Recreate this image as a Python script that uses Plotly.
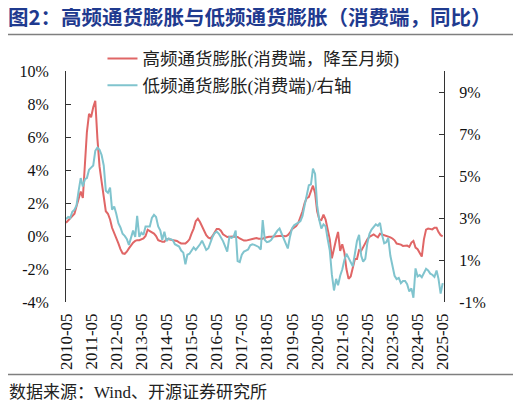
import pandas as pd
import plotly.graph_objects as go

# 月度数据 2010-05 ~ 2025-05
months = pd.date_range("2010-05-01", "2025-05-01", freq="MS")

# 高频通货膨胀(消费端，降至月频)，左轴，%
high_freq = [
    0.8, 0.95, 1.05, 1.2, 1.35, 1.8, 2.2, 2.7, 2.3, 4.5,
    6.3, 7.4, 7.2, 7.8, 8.2, 5.9, 4.2, 3.3, 2.4, 1.5,
    1.35, 1.0, 0.5, 0.2, -0.15, -0.45, -0.8, -1.05, -1.08, -0.95,
    -0.75, -0.55, -0.4, -0.3, -0.25, -0.25, -0.2, -0.15, 0.0, 0.38,
    0.3, 0.25, 0.15, 0.0, -0.25, -0.3, -0.35, -0.35, -0.18, -0.2,
    -0.22, -0.22, -0.27, -0.3, -0.38, -0.45, -0.46, -0.46, -0.35, -0.2,
    0.14, 0.45, 0.9, 1.05, 0.85, 0.55, 0.32, 0.05, -0.1, -0.15,
    0.0, 0.2, 0.42, 0.42, 0.32, 0.1, 0.0, -0.06, -0.04, -0.02,
    -0.03, -0.05, -0.06, -0.15, -0.22, -0.28, -0.28, -0.23, -0.2, -0.18,
    -0.15, -0.12, -0.16, -0.16, -0.16, -0.1, -0.06, -0.05, -0.04, -0.02,
    -0.02, 0.0, 0.02, 0.02, 0.0, -0.02, 0.05, 0.2, 0.42, 0.5,
    0.6, 0.8, 1.1, 1.5, 2.0, 2.3, 2.36, 2.7, 3.05, 2.6,
    1.5, 1.0, 0.97, 1.3, 1.0, 0.4, -0.2, -1.35, -0.66, -0.2,
    0.25, -0.9, -0.5, -1.0, -2.0, -2.6, -2.45, -1.9, -1.4, -1.4,
    -0.85, -0.9, -0.65, -0.4, -0.2, -0.05, 0.04, 0.1, 0.0, -0.08,
    0.14, 0.1, 0.04, 0.0, -0.02, -0.08, -0.15, -0.26, -0.46, -0.48,
    -0.52, -0.6, -0.58, -0.58, -0.66, -0.4, -0.3, -0.7, -0.8, -1.0,
    -1.25, -0.2, 0.39, 0.45, 0.43, 0.4, 0.5, 0.5, 0.24, 0.05,
    -0.02,
]

# 低频通货膨胀(消费端)，右轴，%
low_freq = [
    2.95, 3.05, 3.0, 3.3, 3.4, 3.6, 4.3, 4.9, 4.5, 4.85,
    4.9, 5.3, 5.4, 5.5, 6.2, 6.35, 6.25, 6.0, 5.5, 4.3,
    4.2, 4.45, 3.4, 3.55, 3.2, 2.75, 2.55, 2.25, 2.15, 2.0,
    1.72, 2.1, 2.4, 2.1, 3.1, 2.1, 2.3, 2.2, 2.6, 2.6,
    2.6, 3.0, 3.15, 3.05, 2.6, 2.4, 1.95, 2.35, 1.9, 2.03,
    2.0, 1.95, 1.75, 1.7, 1.64, 1.45, 1.35, 0.8, 1.25, 1.3,
    1.45, 1.6, 1.48, 1.6, 1.75, 1.92, 1.7, 1.48, 1.56, 1.9,
    2.1, 2.28, 2.35, 2.25, 2.1, 1.9, 1.65, 1.4, 2.1, 2.05,
    2.1, 2.4, 0.95, 0.9, 1.25, 1.4, 1.45, 1.5, 1.7, 1.75,
    1.72, 1.65, 1.62, 1.5, 2.9, 1.95, 1.85, 1.88, 1.95, 2.1,
    2.27, 2.4, 2.5, 2.25, 2.0, 1.75, 1.55, 2.1, 2.5, 2.65,
    2.7, 2.78, 2.85, 3.1, 3.6, 4.1, 4.56, 4.6, 5.35, 5.1,
    3.6, 2.9, 2.5, 2.7, 2.6, 2.0, 1.45, 0.3, -0.45, 0.1,
    -0.2, 0.25, 0.55, 1.0, 1.3, 1.1, 0.9, 0.7, 1.3, 1.9,
    2.2, 1.2, 0.92, 1.05, 1.8, 2.25, 2.45, 2.6, 2.7, 2.63,
    2.77, 2.2, 1.8, 1.85, 2.05, 1.2, 0.75, 0.25, 0.09, 0.15,
    -0.1, 0.0, 0.0, -0.15, -0.5, -0.35, -0.8, 0.6, 0.22, 0.28,
    0.18, 0.36, 0.58, 0.5, 0.35, 0.3, 0.2, 0.5, 0.1, -0.6,
    -0.1,
]

tick_dates = pd.date_range("2010-05-01", "2025-05-01", freq="12MS")
tick_labels = [d.strftime("%Y-%m") for d in tick_dates]

left_ticks = [-4, -2, 0, 2, 4, 6, 8, 10]
right_ticks = [-1, 1, 3, 5, 7, 9]

RED = "#E06666"
TEAL = "#80C4CE"
SERIF = "Liberation Serif"
CJK = "Liberation Serif, Noto Sans CJK SC"

fig = go.Figure()
fig.add_trace(
    go.Scatter(
        x=months, y=high_freq, name="高频通货膨胀(消费端，降至月频)",
        mode="lines", line=dict(color=RED, width=2), legendgroup="a",
    )
)
fig.add_trace(
    go.Scatter(
        x=months, y=low_freq, name="低频通货膨胀(消费端)/右轴",
        mode="lines", line=dict(color=TEAL, width=2), yaxis="y2", legendgroup="b",
    )
)

# 页面 body 有 8px 边距，图尺寸相应缩小
x_range = ["2010-05-01", "2025-05-20"]
fig.update_layout(
    width=513,
    height=394,
    margin=dict(l=58, r=77, t=62.6, b=99.7, autoexpand=False),
    paper_bgcolor="white",
    plot_bgcolor="white",
    showlegend=True,
    title=dict(
        text="<b>图2：高频通货膨胀与低频通货膨胀（消费端，同比）</b>",
        font=dict(family="Noto Sans CJK SC", size=20.5, color="#1F3A8F"),
        x=0.0, xanchor="left", xref="container", pad=dict(l=0),
        y=1 - 10 / 394, yanchor="middle", yref="container",
    ),
    legend=dict(
        x=0.0965, y=1.131, xanchor="left", yanchor="top",
        bgcolor="rgba(0,0,0,0)", font=dict(family=CJK, size=17.5, color="#222"),
        traceorder="grouped", tracegroupgap=1,
    ),
    xaxis=dict(
        type="date", range=x_range,
        tickvals=tick_dates, ticktext=tick_labels, tickangle=-90,
        showline=False, ticks="", showgrid=False, zeroline=False,
        ticklabelstandoff=7,
        tickfont=dict(family=SERIF, size=17, color="#111"),
    ),
    xaxis2=dict(
        type="date", range=x_range, overlaying="x", matches="x",
        anchor="free", position=4 / 14,
        tickvals=tick_dates, showticklabels=False,
        showline=True, linecolor="#555", linewidth=1.3,
        ticks="inside", ticklen=4, tickcolor="#555",
        showgrid=False, zeroline=False,
    ),
    yaxis=dict(
        range=[-4, 10], tickvals=left_ticks,
        ticktext=[f"{v}%" for v in left_ticks],
        showline=True, linecolor="#333", linewidth=1,
        ticks="inside", ticklen=5, tickcolor="#333",
        showgrid=False, zeroline=False, ticklabelstandoff=13,
        tickfont=dict(family=SERIF, size=16, color="#111"),
    ),
    yaxis2=dict(
        range=[-1, 10], tickvals=right_ticks,
        ticktext=[f"{v}%" for v in right_ticks],
        overlaying="y", side="right",
        showline=True, linecolor="#333", linewidth=1,
        ticks="inside", ticklen=5, tickcolor="#333",
        showgrid=False, zeroline=False, ticklabelstandoff=11,
        tickfont=dict(family=SERIF, size=16, color="#111"),
    ),
)

# 标题下横线与底部横线
fig.add_shape(type="line", xref="paper", yref="paper",
              x0=-0.161, x1=1.19, y0=1.158, y1=1.158,
              line=dict(color="#7F7F7F", width=1.5))
fig.add_shape(type="line", xref="paper", yref="paper",
              x0=-0.161, x1=1.19, y0=-0.314, y1=-0.314,
              line=dict(color="#7F7F7F", width=1.5))

fig.add_annotation(
    text="数据来源：Wind、开源证券研究所",
    xref="paper", yref="paper", x=-0.155, y=-0.392,
    xanchor="left", yanchor="middle", showarrow=False,
    font=dict(family=CJK, size=17, color="#222"),
)

fig.write_html("out.html")
